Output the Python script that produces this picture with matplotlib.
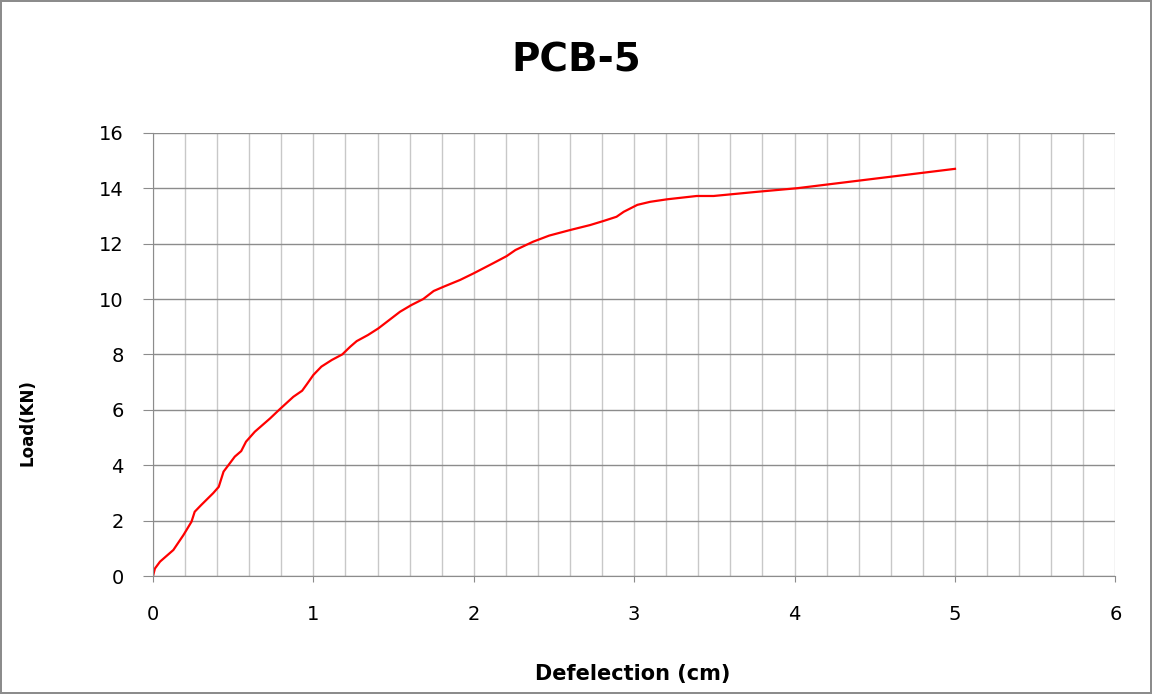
import matplotlib.pyplot as plt
import numpy as np

# deflection (cm) and load (kN)
deflection = [0, 0.012, 0.044, 0.127, 0.19, 0.24, 0.26, 0.30, 0.375, 0.41, 0.44, 0.47,
              0.51, 0.55, 0.58, 0.635, 0.73, 0.79, 0.875, 0.93, 0.96, 1.0, 1.05, 1.115,
              1.18, 1.23, 1.27, 1.34, 1.405, 1.54, 1.61, 1.685, 1.75, 1.81, 1.915, 2.0,
              2.12, 2.205, 2.26, 2.37, 2.47, 2.60, 2.725, 2.81, 2.89, 2.935, 3.02, 3.10,
              3.205, 3.39, 3.495, 3.765, 4.015, 5.0]
load = [0, 0.27, 0.52, 0.94, 1.48, 1.96, 2.32, 2.56, 2.99, 3.22, 3.77, 4.0,
        4.31, 4.51, 4.85, 5.21, 5.69, 6.02, 6.47, 6.69, 6.93, 7.26, 7.56, 7.8,
        8.0, 8.28, 8.48, 8.70, 8.94, 9.54, 9.78, 10.0, 10.29, 10.44, 10.69, 10.93,
        11.29, 11.55, 11.77, 12.07, 12.29, 12.49, 12.67, 12.82, 12.97, 13.15, 13.4, 13.51,
        13.6, 13.72, 13.72, 13.87, 14.0, 14.7]

fig = plt.figure(figsize=(11.52, 6.94), dpi=100, linewidth=1.5, edgecolor='#8c8c8c')
ax = fig.add_axes([0.1328, 0.170, 0.8354, 0.6386])

ax.plot(deflection, load, color='#ff0000', linewidth=1.6)

ax.set_xlim(0, 6)
ax.set_ylim(0, 16)
ax.set_xticks(np.arange(0, 7, 1))
ax.set_yticks(np.arange(0, 18, 2))
ax.set_xticks(np.arange(0, 6.01, 0.2), minor=True)
ax.grid(axis='x', which='both', color='#c8c8c8', linewidth=1)
ax.grid(axis='y', which='major', color='#8c8c8c', linewidth=1)
ax.tick_params(axis='x', which='minor', length=0)
ax.tick_params(axis='both', which='major', color='#8c8c8c', labelsize=14)
ax.tick_params(axis='y', length=7, pad=14)
ax.tick_params(axis='x', length=4, pad=17)
ax.set_axisbelow(True)

for side in ['top', 'right']:
    ax.spines[side].set_visible(False)
for side in ['left', 'bottom']:
    ax.spines[side].set_color('#8c8c8c')

fig.text(0.5, 1 - 60 / 694, 'PCB-5', fontsize=28, fontweight='bold', ha='center', va='center')
fig.text(633 / 1152, 1 - 674 / 694, 'Defelection (cm)', fontsize=15, fontweight='bold',
         ha='center', va='center')
fig.text(28 / 1152, 1 - 423 / 694, 'Load(KN)', fontsize=12, fontweight='bold',
         rotation=90, ha='center', va='center')

fig.savefig('out.png', dpi=100)
